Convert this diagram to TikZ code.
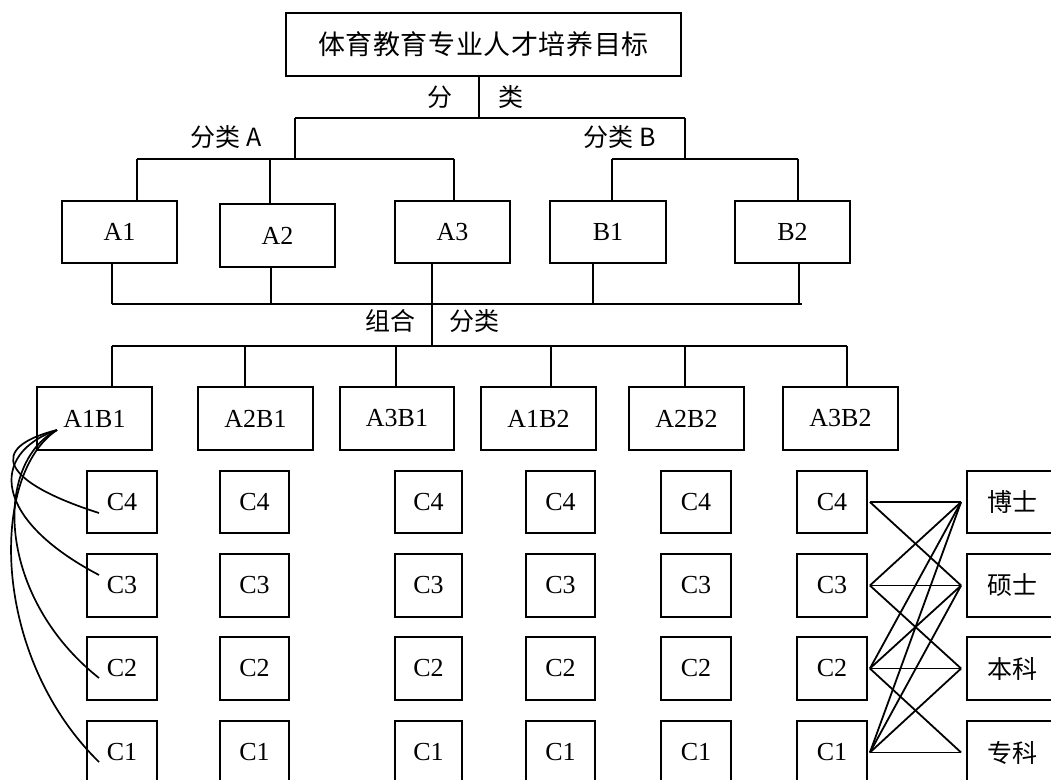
\documentclass[tikz,border=0pt]{standalone}
\usepackage{fontspec}
\setmainfont{Liberation Serif}
\newfontfamily\cjk{Noto Sans CJK SC}
\begin{document}
\begin{tikzpicture}[x=1bp,y=-1bp,
  box/.style={draw, line width=1.8bp, inner sep=0pt, font=\fontsize{26bp}{30bp}\selectfont},
  cbox/.style={draw, line width=1.8bp, inner sep=0pt, font=\cjk\fontsize{25bp}{30bp}\selectfont},
  lbl/.style={inner sep=0pt, font=\cjk\fontsize{25bp}{30bp}\selectfont},
  ln/.style={line width=1.8bp},
  cv/.style={line width=1.7bp}]
\newcommand\bx[7][box]{\node[#1, minimum width={(#5-#3)*1bp}, minimum height={(#6-#4)*1bp}] (#2) at ({(#3+#5)/2},{(#4+#6)/2}) {#7};}
\newcommand\sk{\kern0.6bp}
\useasboundingbox (0,0) rectangle (1051,780);
\clip (0,0) rectangle (1051,780);
% top
\bx[cbox]{top}{286}{13}{681}{76}{\fontsize{27bp}{30bp}\selectfont 体\sk 育\sk 教\sk 育\sk 专\sk 业\sk 人\sk 才\sk 培\sk 养\sk 目\sk 标}
% A/B row
\bx{A1}{62}{201}{177}{263}{A1}
\bx{A2}{220}{204}{335}{267}{A2}
\bx{A3}{395}{201}{510}{263}{A3}
\bx{B1}{550}{201}{666}{263}{B1}
\bx{B2}{735}{201}{850}{263}{B2}
% combined row
\bx{AB1}{37}{387}{152}{450}{A1B1}
\bx{AB2}{198}{387}{313}{450}{A2B1}
\bx{AB3}{340}{387}{454}{450}{A3B1}
\bx{AB4}{481}{387}{596}{450}{A1B2}
\bx{AB5}{629}{387}{744}{450}{A2B2}
\bx{AB6}{783}{387}{898}{450}{A3B2}
% C boxes
\foreach \n/\xa/\xb in {1/87/157,2/220/289,3/395/462,4/526/595,5/661/731,6/797/867}{
  \bx{c\n4}{\xa}{471}{\xb}{533}{C4}
  \bx{c\n3}{\xa}{554}{\xb}{617}{C3}
  \bx{c\n2}{\xa}{637}{\xb}{700}{C2}
  \bx{c\n1}{\xa}{721}{\xb}{784}{C1}
}
% degree boxes
\bx[cbox]{d4}{967}{471}{1060}{533}{\hspace*{-3bp}博士}
\bx[cbox]{d3}{967}{554}{1060}{617}{\hspace*{-3bp}硕士}
\bx[cbox]{d2}{967}{637}{1060}{700}{\hspace*{-3bp}本科}
\bx[cbox]{d1}{967}{721}{1060}{784}{\hspace*{-3bp}专科}
% labels
\node[lbl] (f1) at (440,97) {分};
\node[lbl] (f2) at (511,97) {类};
\node[lbl] (fA) at (226,137) {分类 A};
\node[lbl] (fB) at (620,137) {分类 B};
\node[lbl] (g1) at (390,321) {组合};
\node[lbl] (g2) at (474,321) {分类};
% top tree
\coordinate (k0) at (479,118);
\coordinate (kA) at (295,118);
\coordinate (kB) at (685,118);
\coordinate (kA2) at (295,159);
\coordinate (kB2) at (685,159);
\draw[ln] (top.south -| k0) -- (k0);
\draw[ln] (kA) -- (kB);
\draw[ln] (kA) -- (kA2);
\draw[ln] (kB) -- (kB2);
\coordinate (lA1) at (137,159);
\coordinate (lA2) at (270,159);
\coordinate (lA3) at (454,159);
\coordinate (rB1) at (612,159);
\coordinate (rB2) at (798,159);
\draw[ln] (lA1) -- (lA3);
\draw[ln] (rB1) -- (rB2);
\draw[ln] (lA1) -- (A1.north -| lA1);
\draw[ln] (lA2) -- (A2.north -| lA2);
\draw[ln] (lA3) -- (A3.north -| lA3);
\draw[ln] (rB1) -- (B1.north -| rB1);
\draw[ln] (rB2) -- (B2.north -| rB2);
% lower bus
\coordinate (m1) at (112,304);
\coordinate (m2) at (271,304);
\coordinate (m3) at (432,304);
\coordinate (m4) at (593,304);
\coordinate (m5) at (799,304);
\coordinate (m6) at (802,304);
\draw[ln] (m1) -- (m6);
\draw[ln] (A1.south -| m1) -- (m1);
\draw[ln] (A2.south -| m2) -- (m2);
\draw[ln] (A3.south -| m3) -- (m3);
\draw[ln] (B1.south -| m4) -- (m4);
\draw[ln] (B2.south -| m5) -- (m5);
\coordinate (n0) at (432,346);
\draw[ln] (m3) -- (n0);
\coordinate (n1) at (112,346);
\coordinate (n2) at (245,346);
\coordinate (n3) at (396,346);
\coordinate (n4) at (551,346);
\coordinate (n5) at (685,346);
\coordinate (n6) at (847,346);
\draw[ln] (n1) -- (n6);
\foreach \i in {1,...,6}{\draw[ln] (n\i) -- (AB\i.north -| n\i);}
% curves from A1B1
\coordinate (o) at (57,430);
\coordinate (e4) at (99,513);
\coordinate (e3) at (99,575);
\coordinate (e2) at (99,678);
\coordinate (e1) at (99,762);
\draw[cv] (o) .. controls (-14,448) and (2,482) .. (e4);
\draw[cv] (o) .. controls (-12,454) and (-6,520) .. (e3);
\draw[cv] (o) .. controls (-8,464) and (-2,598) .. (e2);
\draw[cv] (o) .. controls (-10,474) and (-10,655) .. (e1);
% crossing lines
\foreach \c in {1,...,4}{\coordinate (p\c) at ([xshift=2bp]c6\c.east);
  \coordinate (q\c) at ([xshift=-5bp]d\c.west);}
\draw[ln] (p4) -- (q4);
\draw[ln] (p4) -- (q3);
\draw[ln] (p3) -- (q4);
\draw[ln] (p3) -- (q3);
\draw[ln] (p3) -- (q2);
\draw[ln] (p2) -- (q4);
\draw[ln] (p2) -- (q3);
\draw[ln] (p2) -- (q2);
\draw[ln] (p2) -- (q1);
\draw[ln] (p1) -- (q4);
\draw[ln] (p1) -- (q3);
\draw[ln] (p1) -- (q2);
\draw[ln] (p1) -- (q1);
\end{tikzpicture}
\end{document}
